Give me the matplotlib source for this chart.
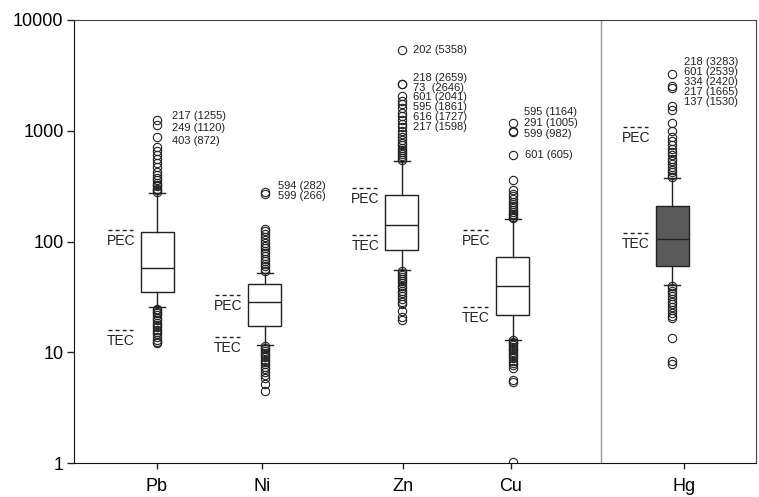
import matplotlib
matplotlib.use('Agg')
import matplotlib.pyplot as plt
from matplotlib.ticker import NullLocator

plt.rcParams['font.family'] = ['Liberation Sans', 'DejaVu Sans']

# box summaries
elements = ['Pb', 'Ni', 'Zn', 'Cu', 'Hg']
q1 = [35.2, 17.2, 84, 21.8, 60.7]
median = [57.5, 28.4, 140, 39.3, 106]
q3 = [121, 41.3, 264, 73.2, 210]
whisker_low = [25.4, 11.6, 55.5, 13.0, 40.7]
whisker_high = [273, 52.2, 535, 159, 373]

# guideline levels
pec = [128, 33.2, 307, 128, 1080]
tec = [15.9, 13.8, 115, 25.6, 119]

# outliers
pb_out = [280, 290, 300, 315, 325, 340, 360, 373, 400, 428, 470, 510, 560, 606, 660, 720, 872, 1120, 1255,
          24.8, 24, 23.2, 22.5, 21.5, 20.5, 19.5, 18.5, 17.5, 16.8, 16, 15.3, 14.5, 13.8, 13, 12.5, 12.1]
ni_out = [54, 57, 60, 63, 66, 70, 74, 78, 82, 87, 92, 97, 103, 110, 117, 124, 130, 266, 282,
          11.3, 11, 10.6, 10.2, 9.8, 9.4, 9, 8.6, 8.2, 7.8, 7.4, 7, 6.6, 6.2, 5.9, 5.2, 4.5]
zn_out = [550, 570, 590, 615, 640, 670, 700, 740, 780, 830, 880, 940, 1000, 1080, 1160, 1250, 1350, 1450,
          1598, 1727, 1861, 2041, 2646, 2659, 5358,
          54, 52, 50, 48, 46, 44, 42, 40, 38, 36, 34, 32, 30, 28.5, 27.5, 23.5, 21, 19.7]
cu_out = [163, 168, 173, 178, 185, 192, 200, 208, 218, 228, 240, 255, 270, 290, 361, 605, 982, 1005, 1164,
          12.8, 12.4, 12, 11.6, 11.2, 10.8, 10.4, 10, 9.6, 9.2, 8.8, 8.4, 8, 7.6, 7.2, 5.6, 5.4, 1.02]
hg_out = [385, 400, 420, 445, 470, 500, 530, 560, 600, 640, 690, 740, 800, 880, 1000, 1170, 1530, 1665,
          2420, 2539, 3283,
          39.5, 38, 36, 34, 32, 30, 28.5, 27, 25.5, 24, 22.5, 21.3, 20.3, 13.4, 8.3, 7.8]
outliers = [pb_out, ni_out, zn_out, cu_out, hg_out]

# outlier labels: sample id (value)
pb_labels = ['217 (1255)', '249 (1120)', '403 (872)']
ni_labels = ['594 (282)', '599 (266)']
zn_top_label = ['202 (5358)']
zn_labels = ['218 (2659)', '73  (2646)', '601 (2041)', '595 (1861)', '616 (1727)', '217 (1598)']
cu_labels = ['595 (1164)', '291 (1005)', '599 (982)']
cu_low_label = ['601 (605)']
hg_labels = ['218 (3283)', '601 (2539)', '334 (2420)', '217 (1665)', '137 (1530)']

# layout (x in pixels from left spine)
box_pos = [83.3, 190.7, 327.8, 438.5, 598.3]
tick_pos = [82.7, 188, 328.7, 436.7, 610]
box_w = 33
divider_x = 526.7
px = 0.72  # points per pixel at 100 dpi

fig = plt.figure(figsize=(7.59, 4.97), dpi=100)
ax = fig.add_axes([74 / 759, 34 / 497, 681.7 / 759, 443 / 497])

stats = []
for i in range(len(elements)):
    stats.append(dict(med=median[i], q1=q1[i], q3=q3[i],
                      whislo=whisker_low[i], whishi=whisker_high[i],
                      fliers=outliers[i]))

bp = ax.bxp(stats, positions=box_pos, widths=box_w, capwidths=16,
            patch_artist=True, manage_ticks=False,
            boxprops=dict(edgecolor='#222222', linewidth=1.0),
            whiskerprops=dict(color='#222222', linewidth=1.0),
            capprops=dict(color='#222222', linewidth=1.0),
            medianprops=dict(color='#222222', linewidth=1.0),
            flierprops=dict(marker='o', markersize=6, markerfacecolor='none',
                            markeredgecolor='#222222', markeredgewidth=0.8, linestyle='none'))
for i, patch in enumerate(bp['boxes']):
    patch.set_facecolor('#5a5a5a' if elements[i] == 'Hg' else 'white')

# PEC / TEC marks to the left of each box
for i in range(len(elements)):
    x0 = box_pos[i] - box_w / 2 - 33
    x1 = box_pos[i] - box_w / 2 - 8
    for level, name in [(pec[i], 'PEC'), (tec[i], 'TEC')]:
        ax.plot([x0, x1], [level, level], color='#222222', linewidth=1.0,
                linestyle=(0, (2.9, 2.2)))
        ax.annotate(name, xy=(x0, level), xytext=(-1 * px, -11 * px),
                    textcoords='offset points', ha='left', va='center',
                    fontsize=10, color='#222222')

# outlier labels: (box index, labels, anchor value, dx px, first row dy px, row spacing px)
groups = [
    (0, pb_labels, 1255, 15, -4.3, 12.5),
    (1, ni_labels, 282, 13, -6, 10.3),
    (2, zn_top_label, 5358, 11, 0, 10),
    (2, zn_labels, 2659, 11, -6, 9.8),
    (3, cu_labels, 1164, 11.2, -11.3, 11),
    (3, cu_low_label, 605, 12.5, 0, 10),
    (4, hg_labels, 3283, 12, -12, 10),
]
for idx, labels, anchor, dx, dy0, step in groups:
    for k, lab in enumerate(labels):
        ax.annotate(lab, xy=(box_pos[idx], anchor),
                    xytext=(dx * px, -(dy0 + k * step) * px),
                    textcoords='offset points', ha='left', va='center',
                    fontsize=8, color='#222222')

ax.axvline(divider_x, color='#999999', linewidth=1.0)

ax.set_yscale('log')
ax.set_ylim(1, 10000)
ax.set_xlim(0, 681.7)
ax.set_yticks([1, 10, 100, 1000, 10000])
ax.set_yticklabels(['1', '10', '100', '1000', '10000'])
ax.yaxis.set_minor_locator(NullLocator())
ax.set_xticks(tick_pos)
ax.set_xticklabels(elements)
ax.tick_params(axis='y', length=5, width=1, pad=2.5, labelsize=13, color='#222222')
ax.tick_params(axis='x', length=4, width=1, pad=7, labelsize=13, color='#222222')

for side in ['left', 'bottom']:
    ax.spines[side].set_color('#111111')
for side in ['top', 'right']:
    ax.spines[side].set_color('#444444')

fig.savefig('out.png', dpi=100)
